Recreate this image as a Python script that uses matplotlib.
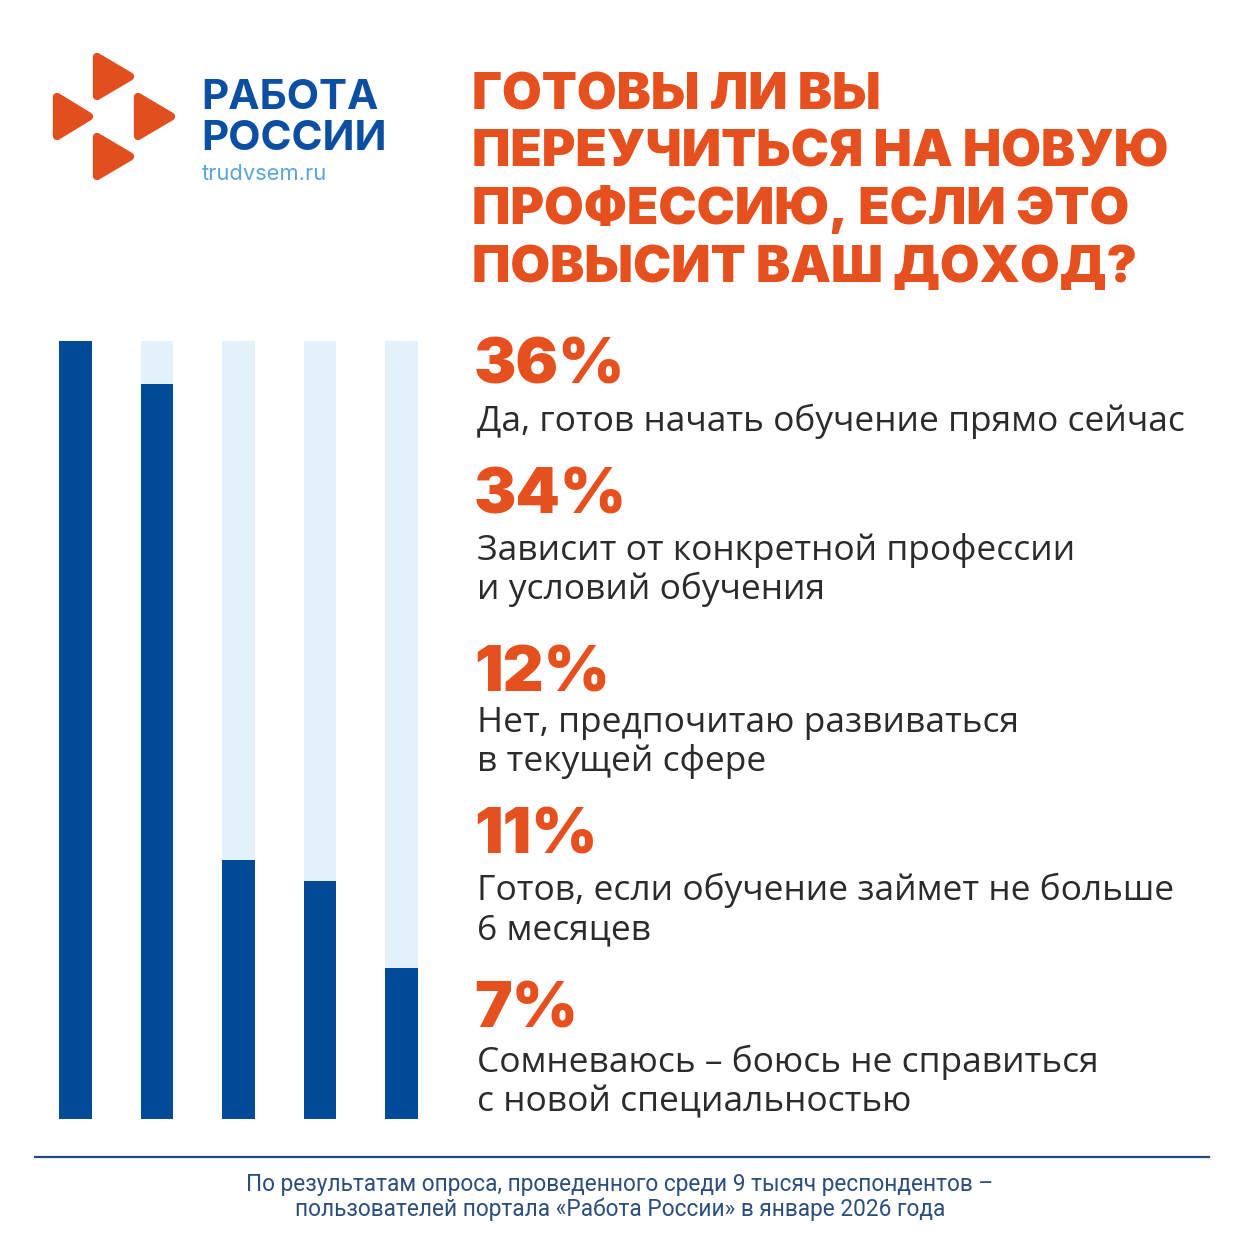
import matplotlib
matplotlib.use("Agg")
import matplotlib.pyplot as plt
from matplotlib.patches import Polygon

# данные опроса
percents = [36, 34, 12, 11, 7]
labels = [
    ["Да, готов начать обучение прямо сейчас"],
    ["Зависит от конкретной профессии", "и условий обучения"],
    ["Нет, предпочитаю развиваться", "в текущей сфере"],
    ["Готов, если обучение займет не больше", "6 месяцев"],
    ["Сомневаюсь – боюсь не справиться", "с новой специальностью"],
]
title_lines = ["ГОТОВЫ ЛИ ВЫ", "ПЕРЕУЧИТЬСЯ НА НОВУЮ",
               "ПРОФЕССИЮ, ЕСЛИ ЭТО", "ПОВЫСИТ ВАШ ДОХОД?"]
footer = ["По результатам опроса, проведенного среди 9 тысяч респондентов –",
          "пользователей портала «Работа России» в январе 2026 года"]

ORANGE = "#E5501E"
DARK = "#004A98"
LIGHT = "#E3F1FA"
TEXT = "#2B2B2B"

W = 1241
fig = plt.figure(figsize=(12.41, 12.41), dpi=100)
fig.patch.set_facecolor("white")
ax = fig.add_axes([0, 0, 1, 1])
ax.set_xlim(0, W)
ax.set_ylim(W, 0)
ax.axis("off")
renderer = fig.canvas.get_renderer()


def fit_size(s, width, **kw):
    # размер шрифта, при котором строка занимает нужную ширину в пикселях
    t = ax.text(0, 0, s, fontsize=20, **kw)
    bb = t.get_window_extent(renderer)
    t.remove()
    return 20 * width / bb.width


def put(x, y, s, size, **kw):
    return ax.text(x, y, s, fontsize=size, va="baseline", **kw)


# логотип
tris = [(93, 53, 134, 100), (53, 93, 93, 140), (134, 93, 175, 140), (93, 133, 134, 180)]
for x0, y0, x1, y1 in tris:
    ax.add_patch(Polygon([(x0 + 4, y0 + 4), (x0 + 4, y1 - 4), (x1 - 4, (y0 + y1) / 2)],
                         closed=True, fc="#E24F1E", ec="#E24F1E", lw=6, joinstyle="round"))
logo_kw = dict(family="Inter", weight="bold", color="#0B4EA2")
logo_size = fit_size("РОССИИ", 186, **logo_kw)
put(201, 109, "РАБОТА", logo_size, **logo_kw)
put(201, 150, "РОССИИ", logo_size, **logo_kw)
url_kw = dict(family="Inter", color="#5DA3D8")
put(202, 180, "trudvsem.ru", fit_size("trudvsem.ru", 125, **url_kw), **url_kw)

# заголовок
title_kw = dict(family="Inter", weight="black", color=ORANGE)
tsize = fit_size(title_lines[1], 697, **title_kw)
for i, line in enumerate(title_lines):
    put(472, 109 + i * 57.5, line, tsize, **title_kw)

# проценты и подписи
pct_y = [383, 513, 692, 853, 1027]
lab_y = [431, 560, 732, 900, 1072]
pct_kw = dict(family="Inter", weight="black", color=ORANGE)
lab_kw = dict(family="Open Sans", color=TEXT)
psize = fit_size("36%", 152, **pct_kw)
lsize = fit_size(labels[0][0], 708, **lab_kw)
for p, lines, y0, y1 in zip(percents, labels, pct_y, lab_y):
    put(474, y0, f"{p}%", psize, **pct_kw)
    for k, line in enumerate(lines):
        put(477, y1 + k * 39, line, lsize, **lab_kw)

# столбики
bx = fig.add_axes([59 / W, (W - 1119) / W, (418 - 59) / W, (1119 - 341) / W])
xs = range(len(percents))
bx.bar(xs, [max(percents)] * len(percents), width=0.404, color=LIGHT)
bx.bar(xs, percents, width=0.404, color=DARK)
bx.set_xlim(-0.202, len(percents) - 1 + 0.202)
bx.set_ylim(0, max(percents))
bx.axis("off")

# подвал
ax.plot([35, 1209], [1157, 1157], color="#1F4E7A", lw=1.6)
foot_kw = dict(family="Roboto", color="#2C4E7C", ha="center")
fsize = fit_size(footer[0], 746, **foot_kw)
put(620, 1191, footer[0], fsize, **foot_kw)
put(620, 1216, footer[1], fsize, **foot_kw)

fig.savefig("out.png", dpi=100, facecolor="white")
